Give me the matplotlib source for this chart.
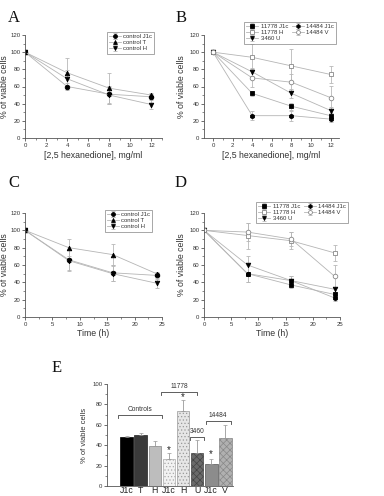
import matplotlib
matplotlib.use("Agg")
import matplotlib.pyplot as plt
import numpy as np
from matplotlib.ticker import MultipleLocator

plt.rcParams['font.family'] = ['Liberation Sans', 'DejaVu Sans']
plt.rcParams['hatch.linewidth'] = 0.5

# ---------------- data ----------------
conc = [0, 4, 8, 12]
time_h = [0, 8, 16, 24]

a_j1c = [100, 60, 51, 48]; a_j1c_err = [0, 4, 10, 3]
a_t = [100, 76, 58, 50];   a_t_err = [0, 17, 18, 2]
a_h = [100, 69, 50, 39];   a_h_err = [0, 10, 10, 5]

b_11778_j1c = [100, 52, 37, 26]; b_11778_j1c_err = [0, 3, 4, 3]
b_11778_h = [100, 94, 84, 74];   b_11778_h_err = [0, 15, 20, 10]
b_3460_u = [100, 77, 52, 32];    b_3460_u_err = [0, 5, 5, 4]
b_14484_j1c = [100, 26, 26, 22]; b_14484_j1c_err = [0, 5, 6, 3]
b_14484_v = [100, 70, 65, 47];   b_14484_v_err = [0, 10, 10, 14]

c_j1c = [100, 66, 51, 48]; c_j1c_err = [0, 12, 9, 3]
c_t = [100, 80, 72, 50];   c_t_err = [0, 10, 12, 2]
c_h = [100, 65, 50, 39];   c_h_err = [0, 12, 9, 5]

d_11778_j1c = [100, 50, 37, 26]; d_11778_j1c_err = [0, 10, 3, 3]
d_11778_h = [100, 94, 88, 74];   d_11778_h_err = [0, 15, 10, 9]
d_3460_u = [100, 60, 42, 32];    d_3460_u_err = [0, 10, 5, 3]
d_14484_j1c = [100, 50, 42, 22]; d_14484_j1c_err = [0, 10, 5, 3]
d_14484_v = [100, 98, 90, 47];   d_14484_v_err = [0, 10, 8, 13]

e_labels = ['J1c', 'T', 'H', 'J1c', 'H', 'U', 'J1c', 'V']
e_values = [48, 50, 39, 26, 74, 32, 22, 47]
e_errors = [0.6, 1.5, 5, 6, 10, 13, 4, 13]

# ---------------- figure ----------------
fig = plt.figure(figsize=(3.84, 4.96), dpi=100)

LINE = '#b5b5b5'
ERR = '#b8b8b8'
TXT = '#333333'

def style_axes(ax, xmaj, xmin_, ymaj=20, ymin_=10):
    for s in ['top', 'right']:
        ax.spines[s].set_visible(False)
    for s in ['left', 'bottom']:
        ax.spines[s].set_linewidth(0.6)
        ax.spines[s].set_color('#555555')
    ax.xaxis.set_major_locator(MultipleLocator(xmaj))
    ax.xaxis.set_minor_locator(MultipleLocator(xmin_))
    ax.yaxis.set_major_locator(MultipleLocator(ymaj))
    ax.yaxis.set_minor_locator(MultipleLocator(ymin_))
    ax.tick_params(which='major', length=2.2, width=0.5, labelsize=4.3, pad=1.2, colors=TXT)
    ax.tick_params(which='minor', length=1.3, width=0.4, colors=TXT)

def series(ax, x, y, err, marker, filled=True, label=None, ms=3.3):
    if filled:
        mfc, mec = 'black', 'black'
    else:
        mfc, mec = 'white', '#888888'
    ax.errorbar(x, y, yerr=err, color=LINE, lw=0.6, marker=marker, ms=ms,
                mfc=mfc, mec=mec, mew=0.6, ecolor=ERR, elinewidth=0.6,
                capsize=1.2, capthick=0.5, label=label)

def legend(ax, loc, bbox, ncol=1):
    lg = ax.legend(loc=loc, bbox_to_anchor=bbox, bbox_transform=fig.transFigure,
                   fontsize=4.3, ncol=ncol, frameon=True, fancybox=False,
                   handlelength=2.0, handletextpad=0.4, borderpad=0.35,
                   labelspacing=0.15, columnspacing=0.6, markerscale=0.85)
    lg.get_frame().set_linewidth(0.5)
    lg.get_frame().set_edgecolor('#666666')
    for t in lg.get_texts():
        t.set_color(TXT)

def labels(ax, xlabel, ylx):
    ax.set_xlabel(xlabel, fontsize=6.3, labelpad=2, color=TXT)
    ax.set_ylabel('% of viable cells', fontsize=6.3, color=TXT)
    ax.yaxis.set_label_coords(ylx, 0.5)

# Panel A
axA = fig.add_axes([25/384, 1-138/496, 137/384, 103/496])
series(axA, conc, a_j1c, a_j1c_err, 'o', label='control J1c')
series(axA, conc, a_t, a_t_err, '^', label='control T')
series(axA, conc, a_h, a_h_err, 'v', label='control H')
axA.set_xlim(0, 13); axA.set_ylim(0, 120)
style_axes(axA, 2, 1)
labels(axA, '[2,5 hexanedione], mg/ml', -0.115)
legend(axA, 'upper right', (157/384, 1-29/496))

# Panel B
axB = fig.add_axes([204/384, 1-138/496, 135/384, 103/496])
series(axB, conc, b_11778_j1c, b_11778_j1c_err, 's', label='11778 J1c')
series(axB, conc, b_11778_h, b_11778_h_err, 's', filled=False, label='11778 H')
series(axB, conc, b_3460_u, b_3460_u_err, 'v', label='3460 U')
series(axB, conc, b_14484_j1c, b_14484_j1c_err, 'h', label='14484 J1c')
series(axB, conc, b_14484_v, b_14484_v_err, 'o', filled=False, label='14484 V')
axB.set_xlim(-0.92, 12.85); axB.set_ylim(0, 120)
style_axes(axB, 2, 1)
labels(axB, '[2,5 hexanedione], mg/ml', -0.13)
legend(axB, 'upper right', (339/384, 1-19/496), ncol=2)

# Panel C
axC = fig.add_axes([25/384, 1-317/496, 137/384, 104/496])
series(axC, time_h, c_j1c, c_j1c_err, 'o', label='control J1c')
series(axC, time_h, c_t, c_t_err, '^', label='control T')
series(axC, time_h, c_h, c_h_err, 'v', label='control H')
axC.set_xlim(0, 25); axC.set_ylim(0, 120)
style_axes(axC, 5, 2.5)
labels(axC, 'Time (h)', -0.115)
legend(axC, 'upper right', (155/384, 1-207/496))

# Panel D
axD = fig.add_axes([204/384, 1-317/496, 136/384, 104/496])
series(axD, time_h, d_11778_j1c, d_11778_j1c_err, 's', label='11778 J1c')
series(axD, time_h, d_11778_h, d_11778_h_err, 's', filled=False, label='11778 H')
series(axD, time_h, d_3460_u, d_3460_u_err, 'v', label='3460 U')
series(axD, time_h, d_14484_j1c, d_14484_j1c_err, 'h', label='14484 J1c')
series(axD, time_h, d_14484_v, d_14484_v_err, 'o', filled=False, label='14484 V')
axD.set_xlim(0, 25); axD.set_ylim(0, 120)
style_axes(axD, 5, 2.5)
labels(axD, 'Time (h)', -0.13)
legend(axD, 'upper right', (351/384, 1-199/496), ncol=2)

# Panel E
axE = fig.add_axes([107/384, 1-486/496, 126/384, 102/496])
xpos = np.arange(len(e_values))
faces = ['#000000', '#3a3a3a', '#bdbdbd', '#f2f2f2', '#e6e6e6', '#6a6a6a', '#8c8c8c', '#b0b0b0']
hatches = [None, None, None, '.....', '.....', 'xxxxx', None, 'xxxxx']
hcolors = ['#000000', '#222222', '#888888', '#aaaaaa', '#999999', '#444444', '#555555', '#888888']
bars = axE.bar(xpos, e_values, width=0.9, color=faces, edgecolor=hcolors, linewidth=0.5)
for b, h in zip(bars, hatches):
    if h:
        b.set_hatch(h)
axE.errorbar(xpos, e_values, yerr=[np.zeros(len(e_errors)), e_errors], fmt='none',
             ecolor='#999999', elinewidth=0.6, capsize=1.2, capthick=0.5)
axE.set_xlim(-1.4, 7.55); axE.set_ylim(0, 100)
for s in ['top', 'right']:
    axE.spines[s].set_visible(False)
for s in ['left', 'bottom']:
    axE.spines[s].set_linewidth(0.6)
    axE.spines[s].set_color('#555555')
axE.yaxis.set_major_locator(MultipleLocator(20))
axE.yaxis.set_minor_locator(MultipleLocator(10))
axE.set_xticks(xpos)
axE.set_xticklabels(e_labels, fontsize=6.3, color='#222222')
axE.tick_params(axis='x', length=0, pad=0.3)
axE.tick_params(axis='y', which='major', length=2.2, width=0.5, labelsize=4.3, pad=1.2, colors=TXT)
axE.tick_params(axis='y', which='minor', length=1.3, width=0.4, colors=TXT)
axE.set_ylabel('% of viable cells', fontsize=5.5, color=TXT)
axE.yaxis.set_label_coords(-0.15, 0.5)

def bracket(ax, x0, x1, y, text, ty):
    ax.plot([x0, x0, x1, x1], [y - 3, y, y, y - 3], color='#444444', lw=0.6, clip_on=False)
    ax.text((x0 + x1) / 2, ty, text, ha='center', va='bottom', fontsize=4.8, color=TXT)

bracket(axE, -0.6, 2.5, 70, 'Controls', 71.5)
bracket(axE, 2.45, 4.96, 92, '11778', 94)
bracket(axE, 4.5, 5.5, 48, '3460', 50)
bracket(axE, 5.6, 7.4, 64, '14484', 66)
for xi, yi in [(3, 35), (4, 87), (6, 31)]:
    axE.text(xi, yi, '*', ha='center', va='center', fontsize=7, color='#222222')

# Panel letters
for lab, (px, py) in {'A': (14, 18), 'B': (181, 18), 'C': (14, 183),
                      'D': (181, 183), 'E': (57, 368)}.items():
    fig.text(px/384, 1-py/496, lab, fontsize=12, family='Liberation Serif',
             ha='center', va='center', color='#111111')

fig.savefig('out.png', dpi=100)
